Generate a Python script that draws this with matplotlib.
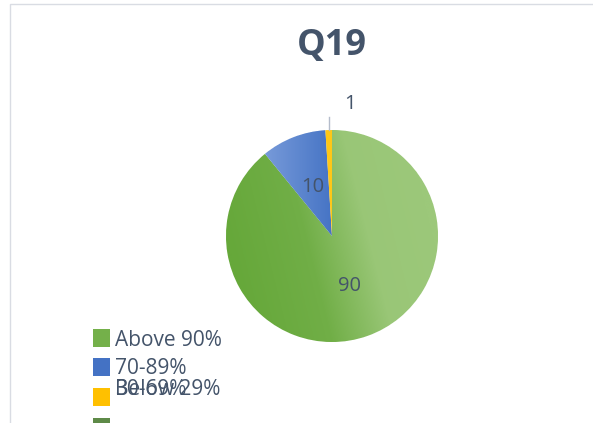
import numpy as np
import matplotlib
matplotlib.use("Agg")
import matplotlib.pyplot as plt
from matplotlib.patches import Rectangle
from matplotlib.colors import LinearSegmentedColormap

categories = ["Above 90%", "70-89%", "30-69%", "Below 29%"]
values = [90, 10, 1, 0]
# gradient pairs (left colour, right colour) per slice
slice_colors = [("#66a83a", "#9cc87a"), ("#7c9edb", "#4674c5"),
                ("#ffc000", "#ffd030"), ("#5e8a48", "#5e8a48")]
legend_colors = ["#74b04a", "#4472c4", "#ffc000", "#5e8a48"]
title = "Q19"

TXT = "#44546a"
W, H = 593, 423
plt.rcParams["font.family"] = ["Open Sans", "DejaVu Sans"]

fig = plt.figure(figsize=(W / 100, H / 100), dpi=100)
fig.patch.set_facecolor("white")

# pie centre (332, 236) px, radius 106 px
R, cx, cy, lim = 106, 332, 236, 1.4
side = 2 * lim * R
ax = fig.add_axes([(cx - side / 2) / W, (H - cy - side / 2) / H, side / W, side / H])

wedges, _ = ax.pie(values, startangle=90, counterclock=False,
                   colors=[c[1] for c in slice_colors],
                   wedgeprops=dict(linewidth=0.6, edgecolor="white"))
ax.set_aspect("equal")
ax.axis("off")

# gradient fills clipped to each wedge (slightly tilted for the green one)
gx, gy = np.meshgrid(np.linspace(-1, 1, 300), np.linspace(1, -1, 300))
ramps = [np.interp(gx + 0.25 * gy, [-1, -0.25, 0.35, 1], [0, 0.2, 0.95, 1]),
         np.interp(gx, [-0.7, 0.0], [0, 1]),
         np.interp(gx, [-1, 1], [0, 1]),
         np.interp(gx, [-1, 1], [0, 1])]
for w, (c0, c1), ramp in zip(wedges, slice_colors, ramps):
    cmap = LinearSegmentedColormap.from_list("g", [c0, c1])
    im = ax.imshow(ramp, cmap=cmap, vmin=0, vmax=1, extent=[-1, 1, -1, 1],
                   aspect="auto", zorder=w.get_zorder() + 0.1)
    im.set_clip_path(w)
ax.set_xlim(-lim, lim)
ax.set_ylim(-lim, lim)

# data labels
for w, v in zip(wedges, values):
    if v == 0:
        continue
    mid = np.deg2rad((w.theta1 + w.theta2) / 2)
    if v >= 5:
        ax.text(0.5 * np.cos(mid), 0.5 * np.sin(mid), str(v), ha="center",
                va="center", fontsize=14.5, color=TXT, zorder=5)
    else:
        x0 = np.cos(mid)
        ax.plot([x0, x0], [1.0, 1.12], color="#b4bccb", lw=1, zorder=5)
        ax.text(x0 + 0.2, 1.25, str(v), ha="center", va="center",
                fontsize=14.5, color=TXT, zorder=5)

fig.text(cx / W, 1 - 46 / H, title, ha="center", va="center",
         fontsize=26, fontweight="bold", color=TXT)

# chart border (partially visible)
fig.add_artist(Rectangle((10 / W, -0.1), 1.2, (H - 4) / H + 0.1, fill=False,
                         edgecolor="#d9dce3", lw=1, transform=fig.transFigure))

# legend (entries overlap as in the original)
mark_y = [338, 367, 397, 427]
text_y = [340, 368, 389, 389]
for lab, col, my, ty in zip(categories, legend_colors, mark_y, text_y):
    fig.add_artist(Rectangle((93 / W, 1 - (my + 9) / H), 17 / W, 18 / H,
                             facecolor=col, edgecolor="none",
                             transform=fig.transFigure))
    fig.text(115 / W, 1 - ty / H, lab, ha="left", va="center",
             fontsize=15, color=TXT)

fig.savefig("out.png", dpi=100, facecolor="white")
